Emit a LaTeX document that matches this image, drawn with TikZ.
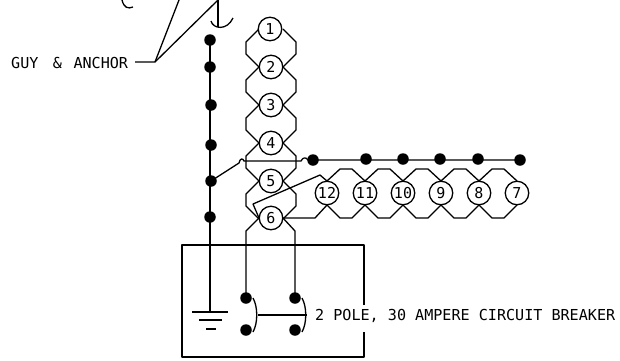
\documentclass[tikz,border=0pt]{standalone}
\usepackage{fontspec}
\setmainfont{DejaVu Sans Mono}
\begin{document}
\begin{tikzpicture}[x=1pt,y=-1pt,
  wire/.style={line width=1.3pt,line join=round},
  num/.style={circle,draw,line width=1.3pt,fill=white,minimum size=23.5pt,inner sep=0pt,font=\fontsize{15}{15}\selectfont},
  dotn/.style={circle,fill=black,minimum size=11.5pt,inner sep=0pt},
  lab/.style={font=\fontsize{15.1}{15}\selectfont,inner sep=0pt,anchor=west}]
\useasboundingbox (0,0) rectangle (620,360);
% terminal positions
\foreach \nn/\xx/\yy in {1/270/29,2/271/67,3/271/105,4/271/143,5/271/181,6/271/218,
  12/327/193,11/365/193,10/403/193,9/441/193,8/479/193,7/517/193}{
  \coordinate (t\nn) at (\xx,\yy);
}
\coordinate (t6w) at (259,218);
\coordinate (t6e) at (283,218);
\coordinate (t12n) at (327,181);
\coordinate (t12s) at (327,205);
% vertical twisted chain
\foreach \yy in {29,67,105,143,181}{
  \draw[wire] (259,\yy) -- ++(-13,13) -- ++(0,12) -- ++(13,13);
  \draw[wire] (283,\yy) -- ++(13,13) -- ++(0,12) -- ++(-13,13);
}
% horizontal twisted chain
\foreach \xx in {327,365,403,441,479}{
  \draw[wire] (\xx,181) -- ++(13,-12) -- ++(12,0) -- ++(13,12);
  \draw[wire] (\xx,205) -- ++(13,13) -- ++(12,0) -- ++(13,-13);
}
% dots
\foreach \nn/\xx/\yy in {a/210/40,b/210/67,c/211/105,d/211/145,e/211/181,f/210/217,
  g/313/160,h/366/159,i/403/159,j/440/159,k/478/159,l/520/160}{
  \node[dotn] (d\nn) at (\xx,\yy) {};
}
\coordinate (gnd) at (210,312);
\draw[wire] (da.center) -- (gnd);
% branch wire with hops
\draw[wire] (de.center) -- (239,163) .. controls (240,158) and (243,158) .. (244,161)
  -- (301,161) .. controls (303,157) and (306,157) .. (308,160) -- (dg.center) -- (dl.center);
% wires from terminal 12 back to 6
\draw[wire] (t12n) -- (320,175) -- (253,204) -- (t6w);
\draw[wire] (t6e) -- (315,218) -- (t12s);
% box with gap for label
\draw[wire] (364,305) -- (364,245) -- (182,245) -- (182,357) -- (364,357) -- (364,332);
% breaker contacts and drops
\node[dotn] (s1) at (246,298) {};
\node[dotn] (s2) at (295,298) {};
\node[dotn] (s3) at (246,330) {};
\node[dotn] (s4) at (295,330) {};
\draw[wire] (t6w) -- (246,231) -- (s1.center);
\draw[wire] (t6e) -- (295,231) -- (s2.center);
% numbered terminals
\foreach \nn in {1,...,12}{
  \node[num] (n\nn) at (t\nn) {\nn};
}
% breaker handles
\coordinate (h1) at (258,315);
\coordinate (h2) at (307,315);
\draw[wire] (253,298) .. controls (258,307) and (258,323) .. (253,332);
\draw[wire] (302,298) .. controls (307,307) and (307,323) .. (302,332);
\draw[wire] (h1) -- (h2);
% ground
\draw[wire] (192,312) -- (228,312);
\draw[wire] (199,320) -- (222,320);
\draw[wire] (206,329) -- (216,329);
% guy and anchor
\node[lab] (guy) at (11,63) {GUY\hspace{14.5pt}\&\hspace{11.5pt}ANCHOR};
\coordinate (fork) at (155,62);
\coordinate (g1) at (179,0);
\coordinate (g2) at (218,0);
\draw[wire] (135,62) -- (fork) -- (g1);
\draw[wire] (fork) -- (g2);
\draw[wire] (g2) -- (218,27);
\draw[wire] (211,21) .. controls (213,29) and (227,31) .. (233,18);
\draw[wire] (122,0) .. controls (124,8) and (128,9) .. (133,7);
% breaker label
\node[lab] (cb) at (315,316) {2 POLE, 30 AMPERE CIRCUIT BREAKER};
\end{tikzpicture}
\end{document}
